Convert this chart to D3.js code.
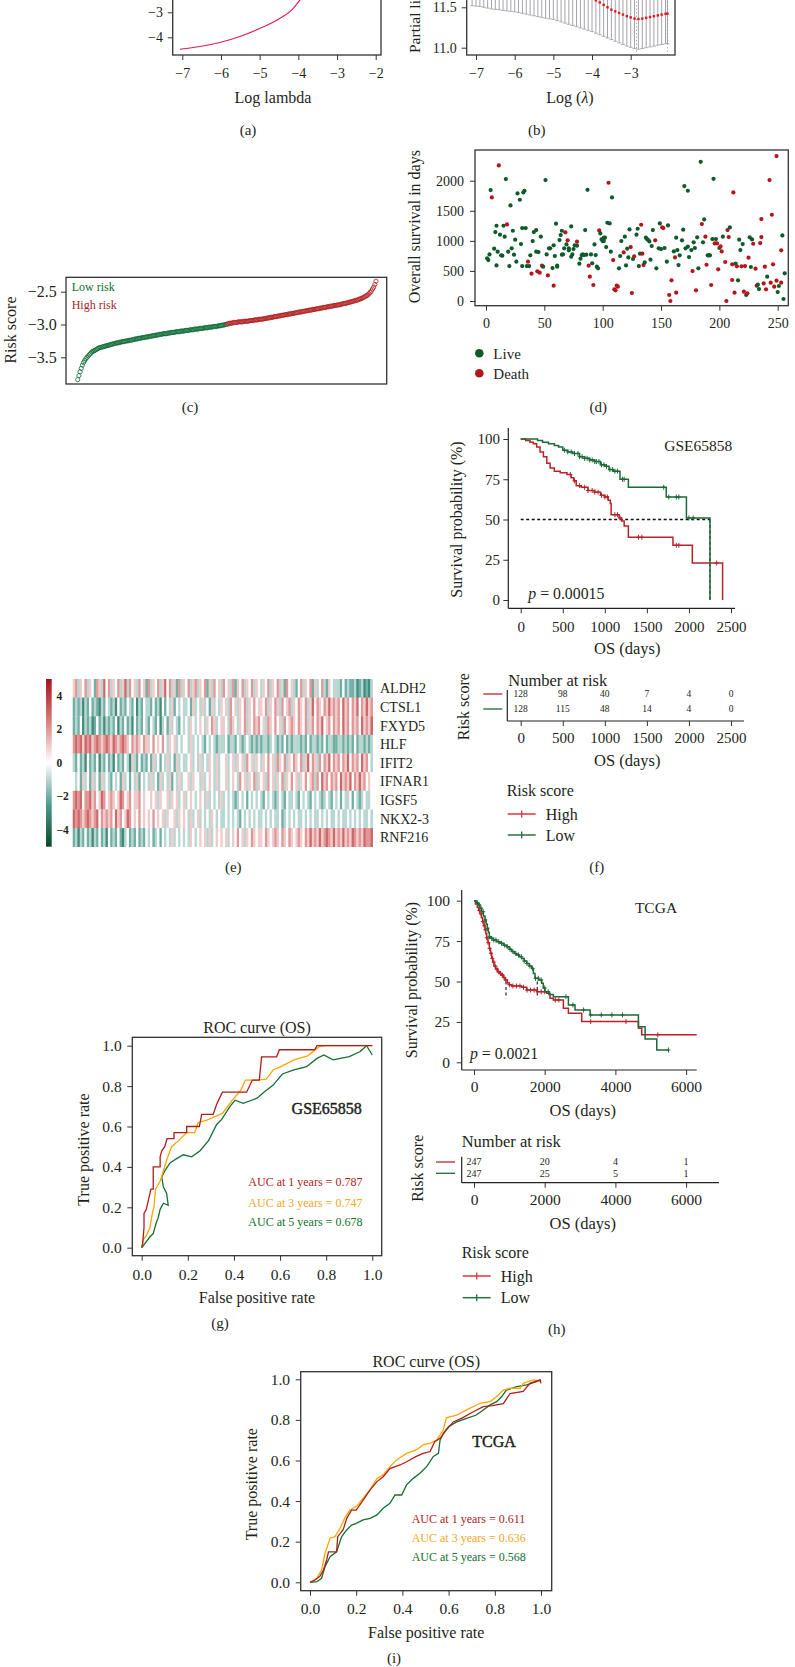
<!DOCTYPE html>
<html><head><meta charset="utf-8">
<script src="https://cdn.jsdelivr.net/npm/d3@7/dist/d3.min.js"></script>
<style>html,body{margin:0;padding:0;background:#fff}svg{display:block}</style>
</head><body>
<svg id="fig" width="795" height="1667"></svg>
<script>
// ================= DATA =================
// (a) LASSO coefficient path (visible part)
const coefLambda = [-7.06,-6.54,-6.03,-5.51,-4.99,-4.47,-4.13,-3.96,-3.8,-3.6,-3.4];
const coefValue  = [-4.48,-4.37,-4.21,-3.97,-3.64,-3.24,-2.84,-2.51,-2.2,-1.8,-1.4];
const lambdaTicks = [-7,-6,-5,-4,-3,-2];
const coefTicks = [-4,-3];
// (b) cross-validation
const cvLambda = [-7.1,-7.0,-6.9,-6.8,-6.7,-6.6,-6.5,-6.4,-6.3,-6.2,-6.1,-6.0,-5.9,-5.8,-5.7,-5.6,-5.5,-5.4,-5.3,-5.2,-5.1,-5.0,-4.9,-4.8,-4.7,-4.6,-4.5,-4.4,-4.3,-4.2,-4.1,-4.0,-3.9,-3.8,-3.7,-3.6,-3.5,-3.4,-3.3,-3.2,-3.1,-3.0,-2.9,-2.8,-2.7,-2.6,-2.5,-2.4,-2.3,-2.2,-2.1,-2.05];
const cvMean = [12.30,12.29,12.28,12.27,12.26,12.25,12.24,12.23,12.22,12.21,12.20,12.19,12.18,12.17,12.16,12.15,12.13,12.11,12.09,12.07,12.05,12.03,12.00,11.97,11.94,11.90,11.86,11.82,11.77,11.72,11.67,11.62,11.585,11.56,11.53,11.50,11.47,11.45,11.43,11.41,11.39,11.375,11.36,11.355,11.36,11.37,11.38,11.39,11.40,11.41,11.42,11.42];
const cvLower = [11.52,11.515,11.51,11.50,11.49,11.48,11.475,11.47,11.46,11.455,11.45,11.445,11.435,11.425,11.415,11.405,11.395,11.385,11.375,11.365,11.358,11.35,11.335,11.32,11.305,11.29,11.275,11.26,11.245,11.23,11.215,11.20,11.18,11.16,11.14,11.12,11.10,11.08,11.06,11.04,11.02,11.005,10.99,10.98,10.99,11.0,11.01,11.02,11.03,11.04,11.05,11.05];
const lambdaMarks = [-2.85,-2.05];
const cvTicks = [11.0,11.5];
// (c) sorted risk scores (128 low + 128 high)
const riskScore = [-3.84,-3.78,-3.72,-3.67,-3.62,-3.58,-3.55,-3.52,-3.50,-3.48,-3.46,-3.44,-3.42,-3.41,-3.40,-3.39,-3.38,-3.37,-3.36,-3.35,
-3.35,-3.34,-3.34,-3.33,-3.33,-3.32,-3.32,-3.31,-3.31,-3.30,-3.30,-3.29,-3.29,-3.28,-3.28,-3.28,-3.27,-3.27,-3.26,-3.26,
-3.26,-3.25,-3.25,-3.25,-3.24,-3.24,-3.24,-3.23,-3.23,-3.22,-3.22,-3.22,-3.21,-3.21,-3.21,-3.20,-3.20,-3.20,-3.19,-3.19,
-3.19,-3.18,-3.18,-3.18,-3.17,-3.17,-3.17,-3.16,-3.16,-3.16,-3.15,-3.15,-3.15,-3.14,-3.14,-3.14,-3.14,-3.13,-3.13,-3.13,
-3.12,-3.12,-3.12,-3.12,-3.11,-3.11,-3.11,-3.11,-3.10,-3.10,-3.10,-3.10,-3.09,-3.09,-3.09,-3.09,-3.08,-3.08,-3.08,-3.08,
-3.07,-3.07,-3.07,-3.07,-3.06,-3.06,-3.06,-3.06,-3.05,-3.05,-3.05,-3.05,-3.04,-3.04,-3.04,-3.04,-3.03,-3.03,-3.03,-3.03,
-3.02,-3.02,-3.02,-3.01,-3.01,-3.01,-3.00,-3.00,
-2.99,-2.99,-2.98,-2.98,-2.98,-2.97,-2.97,-2.97,-2.97,-2.96,-2.96,-2.96,-2.96,-2.96,-2.95,-2.95,-2.95,-2.95,-2.95,-2.94,-2.94,-2.94,
-2.94,-2.93,-2.93,-2.93,-2.93,-2.92,-2.92,-2.92,-2.92,-2.91,-2.91,-2.91,-2.90,-2.90,-2.90,-2.89,-2.89,-2.89,-2.88,-2.88,
-2.88,-2.87,-2.87,-2.87,-2.86,-2.86,-2.86,-2.85,-2.85,-2.85,-2.84,-2.84,-2.84,-2.83,-2.83,-2.83,-2.82,-2.82,-2.82,-2.81,
-2.81,-2.81,-2.80,-2.80,-2.80,-2.79,-2.79,-2.79,-2.78,-2.78,-2.78,-2.77,-2.77,-2.77,-2.76,-2.76,-2.76,-2.75,-2.75,-2.75,
-2.74,-2.74,-2.74,-2.73,-2.73,-2.73,-2.72,-2.72,-2.72,-2.71,-2.71,-2.71,-2.70,-2.70,-2.70,-2.69,-2.69,-2.68,-2.68,-2.68,
-2.67,-2.67,-2.66,-2.66,-2.65,-2.65,-2.64,-2.64,-2.63,-2.63,-2.62,-2.61,-2.61,-2.60,-2.59,-2.58,-2.57,-2.56,-2.55,-2.53,
-2.51,-2.49,-2.46,-2.43,-2.39,-2.34];
const riskTicks = [-3.5,-3.0,-2.5];
// (d) survival status per patient
const survIdx = [1,2,3,4,5,7,8,9,9,10,11,12,13,14,15,16,17,18,19,20,21,22,23,24,25,26,27,29,30,31,31,32,33,34,35,36,37,38,39,40,41,43,43,44,45,46,47,48,49,51,52,53,54,55,57,58,58,59,60,61,61,63,64,65,65,66,67,68,69,70,71,71,73,73,74,75,76,78,78,80,81,82,83,84,85,86,87,88,89,90,91,92,93,94,95,96,97,98,99,100,101,101,102,103,104,105,106,107,108,109,110,111,112,113,114,115,116,118,119,120,121,122,123,124,125,126,127,129,130,131,132,133,134,135,136,137,138,139,140,141,142,143,145,146,148,149,150,151,152,153,155,156,157,158,159,161,162,163,163,164,165,166,168,169,170,171,173,173,174,176,177,178,179,180,181,182,184,185,186,187,188,189,190,191,192,193,194,195,196,197,198,199,200,201,202,203,205,206,207,208,209,211,211,212,213,214,215,216,217,218,219,220,221,222,223,224,225,226,227,228,229,231,232,233,234,235,236,236,238,239,240,241,243,244,245,246,247,249,249,250,251,253,253,254,255,256];
const survDays = [710,680,775,1844,1722,870,1146,592,1251,820,2254,1102,759,753,1251,1069,2027,1273,820,581,1589,875,1168,770,1019,653,1788,1683,947,581,1212,1805,1833,1212,581,653,581,759,454,997,1146,1179,820,493,814,471,1069,587,570,2010,775,426,875,875,548,925,255,748,1285,587,570,1013,1096,770,1168,775,875,1141,941,1008,875,842,1240,736,775,864,925,986,919,620,703,764,775,764,1179,770,1849,587,404,775,626,266,941,764,570,543,1174,1124,1024,997,1052,997,1052,897,1301,1966,1290,820,1722,681,194,177,255,238,543,748,997,808,1069,592,870,725,1190,897,133,698,742,1102,1201,581,786,1268,786,598,642,1052,1030,1013,991,687,914,1179,1008,543,875,1290,864,1223,1212,881,653,1257,100,0,343,825,725,1052,138,847,598,759,1008,1185,1910,875,1833,903,731,847,498,975,881,177,1058,543,2314,1279,975,1357,1069,603,759,759,759,266,1030,2032,958,1030,958,526,881,908,825,1069,648,0,1179,1063,1223,609,349,1805,138,620,576,343,1019,847,576,947,155,581,100,127,720,1058,565,1024,952,537,255,271,199,963,1362,1063,293,570,194,404,2010,304,1434,609,238,2409,338,149,249,304,842,1091,33,460];
const survDead = [0,0,0,0,1,0,0,0,0,0,1,0,0,0,0,0,0,1,0,0,0,0,0,0,0,0,0,0,0,0,0,0,0,0,0,1,0,0,1,0,0,0,0,1,0,1,0,1,0,0,0,1,0,0,0,0,1,0,0,0,0,0,0,0,0,0,0,1,0,1,0,0,0,0,0,0,0,1,0,0,0,0,0,0,0,0,0,1,1,0,0,1,0,0,0,0,1,0,0,0,0,0,0,0,0,1,0,0,0,1,1,1,1,1,0,0,0,1,0,0,0,0,0,1,1,0,1,0,0,0,0,1,1,1,0,0,0,0,0,0,0,0,1,0,0,0,0,1,1,0,0,0,1,1,1,0,1,0,1,0,0,0,0,0,0,0,0,0,0,0,1,0,0,1,0,0,0,1,0,0,1,1,0,0,0,1,0,0,1,0,1,1,0,1,1,0,1,1,1,1,0,1,1,1,1,0,1,0,0,0,1,0,1,1,0,1,1,0,0,0,1,1,1,0,0,1,1,1,1,1,1,0,1,1,1,1,1,1,1,0,0,1,1];
const survTicksX = [0,50,100,150,200,250];
const survTicksY = [0,500,1000,1500,2000];
// (e) heatmap: 9 genes x 128 sample groups, codes 0..8 => -4..+4
const heatGenes = ["ALDH2","CTSL1","FXYD5","HLF","IFIT2","IFNAR1","IGSF5","NKX2-3","RNF216"];
const heatRows = [
"5635463542653746 3546357364536452 6354635746352635 4635635462536453 6453625463546354 3546354635264532 4635462534632543 3324232231231213",
"2323132423213243 2314232432413243 3242314243524343 3425343534253435 4536453546354645 5463546536456354 6546357465465756 5647564657465756",
"2324132312423132 3241324231423243 2432413425343243 4354345435465345 5436543546354656 4536546453645654 6546356465745646 5647564656475657",
"6767576756765676 5765676546565465 5464546435453434 4353434324343233 3423324323432323 2332343232423233 3232423323242332 2332323242332323",
"3242314232413242 3142324315324232 4253424353425343 3453435343543534 4534535453645354 3546453654635465 4635746536465746 5646574656475643",
"4342534253425343 2434253424352434 3534253435243534 4535443534543534 4534543645354635 4536453546354645 3546456364756465 6475657465756454",
"6767466756457645 6545764564556454 4545354453545345 3454345435343435 3434323434243434 3243432343243343 2434324343234324 3424334243234334",
"7676567656746565 6475645764546454 5464545354453545 4353453434354343 3434343243434343 3434343342343434 3343434334343433 4343343434343343",
"2313242313242314 2324213423242324 3423424343534343 4354345453534545 4534546453546545 5465456546546545 6546575657567657 5657565765657667"];
const heatTicks = [4,2,0,-2,-4];
// (f) GSE65858 Kaplan-Meier
const kmGseLow = [[0,100],[120,100],[200,99],[260,98],[330,97],[400,96],[450,95],[500,93],[560,92],[620,91],[700,89],[760,88],[820,87],[880,86],[950,84],[1000,83],[1050,81],[1100,80],[1180,75],[1280,70],[1730,64],[1970,51],[2250,0]];
const kmGseHigh = [[0,100],[60,99],[110,98],[150,97],[190,95],[230,92],[270,89],[310,85],[350,82],[400,80],[470,79],[550,78],[600,76],[630,74],[660,71],[720,70],[800,68],[880,67],[950,65],[1000,64],[1040,62],[1065,60],[1075,53],[1170,51],[1200,49],[1230,46],[1280,39],[1810,34],[2040,23],[2400,0]];
const kmGseLowCens = [520,560,600,640,680,700,730,760,790,820,850,880,900,930,960,990,1020,1060,1090,1120,1150,1210,1230,1700,1760,1850,1880,2000,2050];
const kmGseHighCens = [590,640,700,760,800,850,880,920,960,1000,1030,1120,1150,1180,1400,1440,1850,1880,2330];
const gseTimes = [0,500,1000,1500,2000,2500];
const gseRiskHigh = [128,98,40,7,4,0];
const gseRiskLow = [128,115,48,14,4,0];
const survPctTicks = [0,25,50,75,100];
// (h) TCGA Kaplan-Meier
const kmTcgaHigh = [[0,100],[40,98],[94,96],[130,94],[170,92],[210,89.5],[245,87],[280,84.5],[311,82],[335,79.5],[358,77],[395,74],[434,70.5],[465,67.5],[500,64.3],[530,62],[566,59.6],[610,57.8],[660,56],[720,55],[783,54],[830,52.5],[877,51],[943,49],[1000,48],[1066,47.2],[1349,46.4],[1490,44.7],[1774,43.7],[2057,42.7],[2151,39.6],[2245,38.6],[2528,33.4],[2670,30.3],[3047,25.2],[4651,21],[4745,17],[6300,17]];
const kmTcgaLow = [[0,100],[60,98.6],[123,97.3],[170,95.3],[217,93.2],[265,90.6],[311,88],[345,85.5],[377,82.9],[405,80.3],[434,77.7],[490,76.7],[547,75.7],[640,74.6],[736,73.6],[830,72.5],[925,71.5],[1000,70],[1066,68.5],[1140,67.4],[1207,66.4],[1280,65.3],[1349,64.3],[1420,62.7],[1490,61.2],[1560,59.6],[1632,58.1],[1680,55],[1726,52],[1821,51],[1915,48.9],[1960,46],[2009,43.7],[2120,42],[2245,40.6],[2670,35.5],[2858,32.4],[3283,29.3],[4651,22],[4840,14.4],[5170,7.6],[5500,7.6]];
const kmTcgaHighCens = [150,200,250,290,320,360,400,440,480,520,560,600,650,700,750,800,850,900,1000,1100,1200,1300,1400,1500,1600,1700,1800,1900,2000,2300,2400,3300,4300,5200];
const kmTcgaLowCens = [100,150,200,260,320,380,440,500,560,620,700,780,860,940,1020,1100,1180,1260,1340,1420,1500,1580,1660,1740,1820,1900,2000,2100,2600,2800,3100,3300,3600,3900,4200,5500];
const tcgaMedians = [905,1790];
const tcgaTimes = [0,2000,4000,6000];
const tcgaRiskHigh = [247,20,4,1];
const tcgaRiskLow = [247,25,5,1];
// (g) ROC GSE65858
const rocGse1 = [[0,0],[0.004,0.02],[0.01,0.10],[0.01,0.17],[0.02,0.19],[0.03,0.24],[0.04,0.29],[0.05,0.29],[0.05,0.40],[0.08,0.40],[0.08,0.45],[0.087,0.48],[0.10,0.50],[0.11,0.54],[0.14,0.54],[0.14,0.57],[0.195,0.57],[0.195,0.60],[0.25,0.60],[0.26,0.66],[0.31,0.66],[0.325,0.71],[0.35,0.77],[0.455,0.77],[0.48,0.83],[0.51,0.83],[0.52,0.945],[0.585,0.945],[0.597,0.98],[0.75,0.98],[0.76,1.0],[1,1]];
const rocGse3 = [[0,0],[0.007,0.04],[0.02,0.06],[0.036,0.10],[0.046,0.17],[0.053,0.20],[0.06,0.29],[0.08,0.33],[0.094,0.38],[0.11,0.44],[0.13,0.50],[0.16,0.53],[0.195,0.57],[0.23,0.57],[0.245,0.62],[0.28,0.63],[0.32,0.65],[0.35,0.665],[0.40,0.74],[0.43,0.78],[0.45,0.83],[0.50,0.83],[0.54,0.835],[0.57,0.88],[0.61,0.90],[0.66,0.93],[0.72,0.95],[0.77,0.995],[0.80,1.0],[1,1]];
const rocGse5 = [[0,0],[0.007,0.01],[0.036,0.054],[0.05,0.07],[0.062,0.12],[0.072,0.15],[0.08,0.19],[0.094,0.22],[0.115,0.21],[0.108,0.27],[0.094,0.30],[0.087,0.35],[0.10,0.38],[0.123,0.42],[0.15,0.44],[0.18,0.46],[0.217,0.45],[0.253,0.48],[0.29,0.53],[0.325,0.61],[0.347,0.635],[0.383,0.70],[0.405,0.73],[0.44,0.715],[0.50,0.74],[0.53,0.77],[0.57,0.805],[0.61,0.86],[0.66,0.88],[0.715,0.896],[0.76,0.937],[0.79,0.954],[0.83,0.93],[0.90,0.946],[0.946,0.97],[0.975,1.0],[1.0,0.954]];
const aucGse = [0.787,0.747,0.678];
// (i) ROC TCGA
const rocTcga1 = [[0,0],[0.02,0.01],[0.043,0.03],[0.058,0.06],[0.072,0.11],[0.08,0.15],[0.115,0.15],[0.12,0.225],[0.144,0.26],[0.159,0.315],[0.18,0.356],[0.2,0.356],[0.23,0.405],[0.26,0.455],[0.29,0.496],[0.317,0.52],[0.346,0.56],[0.39,0.578],[0.418,0.594],[0.46,0.62],[0.49,0.635],[0.52,0.644],[0.54,0.693],[0.563,0.709],[0.59,0.75],[0.62,0.79],[0.66,0.81],[0.707,0.84],[0.75,0.865],[0.79,0.87],[0.837,0.88],[0.866,0.93],[0.923,0.94],[0.952,0.98],[0.996,0.997],[1.0,0.98]];
const rocTcga3 = [[0,0],[0.03,0.02],[0.05,0.06],[0.065,0.143],[0.087,0.217],[0.108,0.225],[0.13,0.266],[0.152,0.32],[0.173,0.356],[0.2,0.373],[0.23,0.414],[0.26,0.455],[0.29,0.512],[0.317,0.529],[0.346,0.57],[0.375,0.603],[0.418,0.635],[0.46,0.652],[0.49,0.677],[0.52,0.685],[0.548,0.70],[0.577,0.75],[0.59,0.81],[0.635,0.824],[0.678,0.849],[0.736,0.882],[0.78,0.89],[0.808,0.915],[0.837,0.947],[0.866,0.956],[0.91,0.956],[0.923,0.98],[0.967,0.997],[1.0,0.99]];
const rocTcga5 = [[0,0],[0.03,0.003],[0.05,0.02],[0.065,0.077],[0.087,0.126],[0.115,0.15],[0.137,0.225],[0.159,0.258],[0.18,0.282],[0.2,0.29],[0.23,0.307],[0.26,0.315],[0.29,0.332],[0.317,0.365],[0.346,0.389],[0.368,0.43],[0.397,0.43],[0.418,0.48],[0.447,0.512],[0.476,0.537],[0.505,0.57],[0.534,0.62],[0.556,0.635],[0.563,0.70],[0.577,0.734],[0.6,0.767],[0.635,0.79],[0.678,0.808],[0.72,0.824],[0.75,0.849],[0.78,0.874],[0.808,0.89],[0.83,0.915],[0.85,0.947],[0.895,0.964],[0.938,0.972],[0.98,0.988],[1,0.997]];
const aucTcga = [0.611,0.636,0.568];
const rocYears = [1,3,5];
const rocTicks = [0,0.2,0.4,0.6,0.8,1.0];

// ================= DRAWING =================
const FONT = "'Liberation Serif','Times New Roman',serif";
const INK = "#231f20";
const svg = d3.select("#fig").attr("font-family", FONT);
svg.append("rect").attr("width",795).attr("height",1667).attr("fill","#fff");
const fmtInt = d3.format("d");

function T(x,y,s,o={}){
  const t = svg.append("text").attr("x",x).attr("y",y).text(s)
    .attr("font-size",o.size||15).attr("text-anchor",o.anchor||"start").attr("fill",o.fill||INK);
  if(o.weight) t.attr("font-weight",o.weight);
  if(o.style) t.attr("font-style",o.style);
  if(o.rot) t.attr("transform",`rotate(-90,${x},${y})`);
  return t;
}
function axisG(tx,ty,ax,fs){
  const g = svg.append("g").attr("transform",`translate(${tx},${ty})`).call(ax);
  g.attr("font-family",FONT).attr("font-size",fs);
  g.selectAll(".tick text").attr("fill",INK);
  g.selectAll(".tick line").attr("stroke","#333").attr("stroke-width",1);
  g.select(".domain").remove();
  return g;
}
function line(x1,y1,x2,y2,col="#333",w=1.2,dash=null){
  const l = svg.append("line").attr("x1",x1).attr("y1",y1).attr("x2",x2).attr("y2",y2).attr("stroke",col).attr("stroke-width",w);
  if(dash) l.attr("stroke-dasharray",dash);
  return l;
}
function frame(x0,y0,x1,y1){
  svg.append("rect").attr("x",x0).attr("y",y0).attr("width",x1-x0).attr("height",y1-y0)
    .attr("fill","none").attr("stroke","#333").attr("stroke-width",1.3);
}

// ---------- (a) ----------
{
  const x = d3.scaleLinear().domain([-7,-2]).range([182.3,375.7]);
  const y = d3.scaleLinear().domain([-4,-3]).range([37.3,12.3]);
  svg.append("clipPath").attr("id","clipA").append("rect").attr("x",172.7).attr("y",-200).attr("width",208.3).attr("height",255);
  svg.append("path").attr("clip-path","url(#clipA)")
    .datum(coefLambda.map((d,i)=>[d,coefValue[i]]))
    .attr("d", d3.line().x(d=>x(d[0])).y(d=>y(d[1])).curve(d3.curveMonotoneX))
    .attr("fill","none").attr("stroke","#e3175c").attr("stroke-width",1.1);
  frame(172.7,-100,381,55);
  axisG(0,55,d3.axisBottom(x).tickValues(lambdaTicks).tickSize(5).tickPadding(7.7).tickFormat(fmtInt),14);
  axisG(172.7,0,d3.axisLeft(y).tickValues(coefTicks).tickSize(5).tickPadding(4.7).tickFormat(fmtInt),14);
  T(273,103,"Log lambda",{size:16,anchor:"middle"});
  T(248,135,"(a)",{size:15,anchor:"middle"});
}
// ---------- (b) ----------
{
  const x = d3.scaleLinear().domain([-7,-3]).range([476,630.7]);
  const y = d3.scaleLinear().domain([11,11.5]).range([47.7,7.3]);
  lambdaMarks.forEach(m=>line(x(m),-100,x(m),55,"#9a9aa0",0.8,"1.5,2"));
  cvLambda.forEach((l,i)=>{
    const lo = cvLower[i], up = 2*cvMean[i]-cvLower[i];
    line(x(l),y(up),x(l),y(lo),"#8b8b99",0.8);
    line(x(l)-2,y(lo),x(l)+2,y(lo),"#a8a8b0",0.9);
  });
  svg.append("g").selectAll("rect").data(cvLambda).enter().append("rect")
    .attr("x",(d)=>x(d)-1.2).attr("y",(d,i)=>y(cvMean[i])-1.2).attr("width",2.4).attr("height",2.4).attr("fill","#e01a1a");
  frame(466.7,-100,675,55);
  axisG(0,55,d3.axisBottom(x).tickValues([-7,-6,-5,-4,-3]).tickSize(5).tickPadding(7.7).tickFormat(fmtInt),14);
  axisG(466.7,0,d3.axisLeft(y).tickValues(cvTicks).tickSize(5).tickPadding(5).tickFormat(d3.format(".1f")),14);
  T(420,53,"Partial li",{size:15.5,rot:true});
  const t = T(570,103,"Log (",{size:16,anchor:"middle"});
  t.append("tspan").attr("font-style","italic").text("λ");
  t.append("tspan").text(")");
  T(536.7,135,"(b)",{size:15,anchor:"middle"});
}
// ---------- (c) ----------
{
  const x = d3.scaleLinear().domain([1,256]).range([77.7,376]);
  const y = d3.scaleLinear().domain([-3.5,-2.5]).range([357.3,291.7]);
  frame(66,277.3,386.7,384);
  svg.append("g").selectAll("circle").data(riskScore).enter().append("circle")
    .attr("cx",(d,i)=>x(i+1)).attr("cy",d=>y(d)).attr("r",2.1)
    .attr("fill","none").attr("stroke",(d,i)=> i<128 ? "#0e6b35" : "#b01e1e").attr("stroke-width",0.8);
  axisG(66,0,d3.axisLeft(y).tickValues(riskTicks).tickSize(5).tickPadding(4.3).tickFormat(d3.format(".1f")),16);
  T(15.5,330,"Risk score",{size:16,anchor:"middle",rot:true});
  T(71.7,291,"Low risk",{size:12,fill:"#0e6b35"});
  T(71.7,308.5,"High risk",{size:12,fill:"#a51e1e"});
  T(190,411.7,"(c)",{size:15,anchor:"middle"});
}
// ---------- (d) ----------
{
  const x = d3.scaleLinear().domain([0,250]).range([486,777.7]);
  const y = d3.scaleLinear().domain([0,2000]).range([301,180.7]);
  frame(475,150,788.3,305.7);
  svg.append("g").selectAll("circle").data(survIdx).enter().append("circle")
    .attr("cx",d=>x(d)).attr("cy",(d,i)=>y(survDays[i])).attr("r",2.1)
    .attr("fill",(d,i)=> survDead[i] ? "#b5141b" : "#0f5a2b");
  axisG(0,305.7,d3.axisBottom(x).tickValues(survTicksX).tickSize(5).tickPadding(7.3).tickFormat(fmtInt),14);
  axisG(475,0,d3.axisLeft(y).tickValues(survTicksY).tickSize(5).tickPadding(6).tickFormat(fmtInt),14);
  T(420.5,226.7,"Overall survival in days",{size:16,anchor:"middle",rot:true});
  svg.append("circle").attr("cx",479.3).attr("cy",353.3).attr("r",4.3).attr("fill","#0f5a2b");
  svg.append("circle").attr("cx",479.3).attr("cy",373.3).attr("r",4.3).attr("fill","#b5141b");
  T(493.3,358.5,"Live",{size:15});
  T(493.3,378.5,"Death",{size:15});
  T(598.3,412,"(d)",{size:15,anchor:"middle"});
}
// ---------- (e) heatmap ----------
{
  const x0 = 72.7, x1 = 372.7, y0 = 679, y1 = 846.7;
  const rows = heatRows.map(s=>s.replace(/ /g,"").split("").map(c=>+c-4));
  const nCol = rows[0].length;
  const x = d3.scaleBand().domain(d3.range(nCol)).range([x0,x1]);
  const y = d3.scaleBand().domain(heatGenes).range([y0,y1]);
  const col = d3.scaleLinear().domain([-5,-2.5,0,2.5,5]).range(["#0a4a26","#4d9b8e","#ffffff","#d97d7d","#a3141a"]).clamp(true);
  rows.forEach((r,ri)=>{
    svg.append("g").selectAll("rect").data(r).enter().append("rect")
      .attr("x",(d,i)=>x(i)).attr("y",y(heatGenes[ri])).attr("width",x.bandwidth()+0.3).attr("height",y.bandwidth()+0.3)
      .attr("fill",d=>col(d));
  });
  heatGenes.forEach(g=>T(380,y(g)+y.bandwidth()/2+5,g,{size:14}));
  const cb = d3.scaleLinear().domain([-5,5]).range([y1,y0]);
  const grad = svg.append("defs").append("linearGradient").attr("id","cbar").attr("x1",0).attr("y1",1).attr("x2",0).attr("y2",0);
  d3.range(-5,5.01,0.5).forEach(v=>grad.append("stop").attr("offset",(v+5)/10).attr("stop-color",col(v)));
  svg.append("rect").attr("x",46).attr("y",y0).attr("width",5.7).attr("height",y1-y0).attr("fill","url(#cbar)");
  heatTicks.forEach(v=>T(56.5,cb(v)+4,fmtInt(v),{size:11.5,weight:"bold"}));
  T(233.3,871.7,"(e)",{size:15,anchor:"middle"});
}
// ---------- KM helper ----------
function stepAt(curve,t){ let s=curve[0][1]; for(const p of curve){ if(p[0]<=t) s=p[1]; } return s; }
function drawKM(x,y,curve,cens,color){
  svg.append("path").datum(curve).attr("d",d3.line().x(d=>x(d[0])).y(d=>y(d[1])).curve(d3.curveStepAfter))
    .attr("fill","none").attr("stroke",color).attr("stroke-width",1.5);
  cens.forEach(t=>{ const cx=x(t), cy=y(stepAt(curve,t)); line(cx,cy-2.5,cx,cy+2.5,color,1); line(cx-2,cy,cx+2,cy,color,1); });
}
function legendKM(x,yTitle,yHigh,yLow){
  T(x,yTitle,"Risk score",{size:16});
  [[yHigh,"#e3343a","High"],[yLow,"#2f6e42","Low"]].forEach(([yy,c,s])=>{
    line(x+1,yy,x+29,yy,c,1.5); line(x+15,yy-3.5,x+15,yy+3.5,c,1.3);
    T(x+39,yy+5.5,s,{size:16});
  });
}
// ---------- (f) GSE65858 KM ----------
{
  const x = d3.scaleLinear().domain([0,2500]).range([520.7,731]);
  const y = d3.scaleLinear().domain([0,100]).range([600,439]);
  line(x(0),y(50),x(2250),y(50),"#111",1.3,"3,2.5");
  line(x(2250),y(50),x(2250),y(0),"#111",1.1,"3,2.5");
  drawKM(x,y,kmGseHigh,kmGseHighCens,"#b8232a");
  drawKM(x,y,kmGseLow,kmGseLowCens,"#1d6a38");
  line(508.3,428,508.3,608.3,"#222",1.2); line(508.3,608.3,735,608.3,"#222",1.2);
  axisG(0,608.3,d3.axisBottom(x).tickValues(gseTimes).tickSize(5).tickPadding(7.7).tickFormat(fmtInt),15);
  axisG(508.3,0,d3.axisLeft(y).tickValues(survPctTicks).tickSize(5).tickPadding(3.3).tickFormat(fmtInt),15);
  T(462,519.5,"Survival probability (%)",{size:16,anchor:"middle",rot:true});
  T(627.3,654,"OS (days)",{size:16.5,anchor:"middle"});
  T(698.3,450.5,"GSE65858",{size:15.5,anchor:"middle"});
  const p = T(528.3,598.7,"",{size:15.8}); p.append("tspan").attr("font-style","italic").text("p"); p.append("tspan").text(" = 0.00015");
  // risk table
  T(508.3,686,"Number at risk",{size:16.5});
  line(507.3,690,507.3,721,"#222",1.2); line(507.3,721,744,721,"#222",1.2);
  axisG(0,721,d3.axisBottom(x).tickValues(gseTimes).tickSize(5).tickPadding(6.6).tickFormat(fmtInt),15);
  gseTimes.forEach((t,i)=>{ T(x(t),697.3,gseRiskHigh[i],{size:9.5,anchor:"middle"}); T(x(t),712.3,gseRiskLow[i],{size:9.5,anchor:"middle"}); });
  line(483.3,694,502.3,694,"#c0262d",1.3); line(483.3,709,502.3,709,"#1d6a38",1.3);
  T(469.5,706.7,"Risk score",{size:16,anchor:"middle",rot:true});
  T(627.3,766,"OS (days)",{size:16.5,anchor:"middle"});
  legendKM(506.7,796,814,835);
  T(596.7,871.7,"(f)",{size:15,anchor:"middle"});
}
// ---------- ROC helper ----------
function drawROC(cfg){
  const x = d3.scaleLinear().domain([0,1]).range(cfg.xr);
  const y = d3.scaleLinear().domain([0,1]).range(cfg.yr);
  frame(cfg.f[0],cfg.f[1],cfg.f[2],cfg.f[3]);
  const cols = ["#b01c1c","#ffa500","#127030"];
  [2,1,0].forEach(k=>{
    svg.append("path").datum(cfg.curves[k]).attr("d",d3.line().x(d=>x(d[0])).y(d=>y(d[1])))
      .attr("fill","none").attr("stroke",cols[k]).attr("stroke-width",1.3);
  });
  axisG(0,cfg.f[3],d3.axisBottom(x).tickValues(rocTicks).tickSize(5).tickPadding(cfg.padX).tickFormat(d3.format(".1f")),15.5);
  axisG(cfg.f[0],0,d3.axisLeft(y).tickValues(rocTicks).tickSize(5).tickPadding(cfg.padY).tickFormat(d3.format(".1f")),15.5);
  const cx = (cfg.f[0]+cfg.f[2])/2;
  T(cx,cfg.f[1]-4.5,"ROC curve (OS)",{size:16,anchor:"middle"});
  T(cfg.ylabX,(cfg.f[1]+cfg.f[3])/2+3,"True positive rate",{size:16,anchor:"middle",rot:true});
  T(cx,cfg.xlabY,"False positive rate",{size:16,anchor:"middle"});
  T(cfg.nameX,cfg.nameY,cfg.name,{size:16,anchor:"middle"}).attr("stroke",INK).attr("stroke-width",0.45);
  const acol = ["#b01c1c","#f5a623","#127030"];
  rocYears.forEach((yr,k)=>T(cfg.aucX,cfg.aucY[k],`AUC at ${yr} years = ${d3.format(".3f")(cfg.auc[k])}`,{size:12,fill:acol[k]}));
  T(cfg.tagX,cfg.tagY,cfg.tag,{size:15,anchor:"middle"});
}
// ---------- (g) ----------
drawROC({xr:[141.7,372.3],yr:[1247.7,1045.7],f:[132.3,1037.3,381.7,1255.7],curves:[rocGse1,rocGse3,rocGse5],
  padX:8.6,padY:5.6,ylabX:88.5,xlabY:1303,name:"GSE65858",nameX:326.7,nameY:1113.8,auc:aucGse,aucX:248.3,aucY:[1185.8,1206.8,1225.8],
  tag:"(g)",tagX:220,tagY:1328});
// ---------- (h) TCGA KM ----------
{
  const x = d3.scaleLinear().domain([0,2000]).range([474,544.7]);
  const y = d3.scaleLinear().domain([0,100]).range([1062.3,900.7]);
  tcgaMedians.forEach(m=>line(x(m),y(50),x(m),y(39.6),"#111",1.1,"3,2.5"));
  drawKM(x,y,kmTcgaHigh,kmTcgaHighCens,"#b8232a");
  drawKM(x,y,kmTcgaLow,kmTcgaLowCens,"#1d6a38");
  line(461.7,890,461.7,1070,"#222",1.2); line(461.7,1070,696.7,1070,"#222",1.2);
  axisG(0,1070,d3.axisBottom(x).tickValues(tcgaTimes).tickSize(5).tickPadding(6).tickFormat(fmtInt),15.5);
  axisG(461.7,0,d3.axisLeft(y).tickValues(survPctTicks).tickSize(5).tickPadding(6.7).tickFormat(fmtInt),15.5);
  T(416.5,980,"Survival probability (%)",{size:16,anchor:"middle",rot:true});
  T(582.7,1115.5,"OS (days)",{size:16.5,anchor:"middle"});
  T(656,912.5,"TCGA",{size:15.5,anchor:"middle"});
  const p = T(470,1058.5,"",{size:15.8}); p.append("tspan").attr("font-style","italic").text("p"); p.append("tspan").text(" = 0.0021");
  T(461.7,1147,"Number at risk",{size:16.5});
  line(461.7,1156.7,461.7,1182.7,"#222",1.2); line(461.7,1182.7,719,1182.7,"#222",1.2);
  axisG(0,1182.7,d3.axisBottom(x).tickValues(tcgaTimes).tickSize(5).tickPadding(6.6).tickFormat(fmtInt),15.5);
  tcgaTimes.forEach((t,i)=>{ T(x(t),1165,tcgaRiskHigh[i],{size:10,anchor:"middle"}); T(x(t),1176.6,tcgaRiskLow[i],{size:10,anchor:"middle"}); });
  line(436,1162,455,1162,"#c0262d",1.3); line(436,1173.3,455,1173.3,"#1d6a38",1.3);
  T(423,1168.3,"Risk score",{size:16,anchor:"middle",rot:true});
  T(582.7,1228.5,"OS (days)",{size:16.5,anchor:"middle"});
  legendKM(461.7,1258,1276,1297.7);
  T(556.7,1333.5,"(h)",{size:15,anchor:"middle"});
}
// ---------- (i) ----------
drawROC({xr:[310,541],yr:[1582.3,1379.3],f:[300.7,1371.7,551.7,1590.7],curves:[rocTcga1,rocTcga3,rocTcga5],
  padX:6.9,padY:5.7,ylabX:257.5,xlabY:1638,name:"TCGA",nameX:494,nameY:1447.3,auc:aucTcga,aucX:411.7,aucY:[1523.4,1542.4,1561.4],
  tag:"(i)",tagX:394,tagY:1663});
</script>
</body></html>
